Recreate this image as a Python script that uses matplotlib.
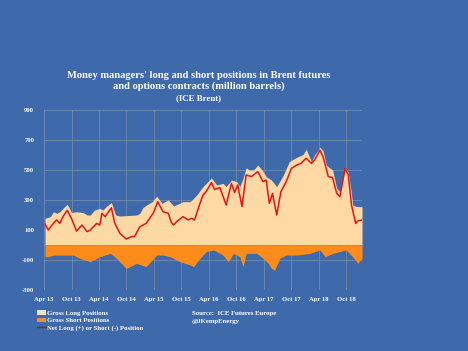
import matplotlib
matplotlib.use("Agg")
import matplotlib.pyplot as plt
from matplotlib.patches import Patch
from matplotlib.lines import Line2D
import pandas as pd

# ---- data (million barrels) ----
# weekly report number counted from the week of 1 April 2013
START = "2013-04-01"
END_WEEK = 302

long_weeks = [1, 6, 9, 12, 15, 18, 22, 25, 26, 31, 37, 41, 44, 48, 53, 56, 59, 64, 68, 72,
              88, 91, 94, 100, 103, 107, 112, 118, 123, 129, 132, 139, 145, 151, 159, 164,
              170, 173, 178, 183, 186, 189, 192, 195, 199, 203, 207, 211, 216, 221, 227,
              233, 240, 246, 249, 254, 257, 262, 265, 268, 271, 274, 278, 281, 286, 289,
              292, 293, 297, 302]
long_vals = [178, 189, 222, 211, 222, 244, 272, 233, 216, 222, 216, 200, 200, 233, 244, 233,
             256, 283, 200, 193, 200, 211, 250, 278, 289, 325, 278, 300, 260, 278, 289, 289,
             333, 389, 447, 400, 411, 389, 433, 422, 389, 444, 514, 500, 500, 533, 500, 456,
             433, 389, 462, 556, 585, 603, 638, 556, 600, 652, 628, 533, 516, 500, 378, 355,
             516, 484, 344, 267, 256, 256]

short_weeks = [1, 4, 9, 28, 34, 44, 53, 63, 69, 78, 88, 97, 107, 113, 120, 129, 139, 142,
               148, 154, 161, 170, 175, 180, 186, 189, 192, 202, 208, 213, 216, 219, 224,
               230, 240, 252, 262, 267, 274, 287, 293, 297, 298, 302]
short_vals = [-78, -78, -67, -67, -89, -111, -78, -56, -89, -156, -122, -144, -67, -67, -78,
              -111, -133, -144, -89, -44, -33, -67, -111, -56, -78, -144, -56, -56, -89,
              -122, -156, -167, -89, -67, -67, -56, -33, -78, -56, -33, -78, -111, -122, -89]

net_weeks = [1, 4, 9, 12, 15, 18, 22, 26, 28, 31, 36, 41, 44, 50, 53, 55, 58, 64, 67, 72,
             78, 83, 86, 91, 97, 104, 108, 113, 118, 121, 123, 126, 132, 137, 140, 143, 148,
             151, 154, 159, 162, 167, 173, 178, 181, 184, 188, 192, 197, 203, 208, 211, 214,
             217, 221, 225, 230, 235, 240, 244, 249, 254, 257, 262, 265, 270, 274, 278, 281,
             286, 289, 292, 296, 298, 302]
net_vals = [139, 100, 145, 167, 144, 189, 231, 178, 144, 92, 133, 89, 100, 144, 133, 211,
            189, 248, 150, 78, 40, 56, 56, 122, 144, 215, 289, 222, 211, 150, 133, 156, 189,
            167, 178, 167, 275, 333, 356, 416, 370, 383, 267, 410, 350, 400, 256, 467, 456,
            489, 422, 433, 278, 344, 200, 356, 422, 511, 533, 544, 578, 544, 567, 633, 589,
            456, 450, 344, 322, 511, 467, 267, 144, 160, 167]

tick_labels = ["Apr 13", "Oct 13", "Apr 14", "Oct 14", "Apr 15", "Oct 15",
               "Apr 16", "Oct 16", "Apr 17", "Oct 17", "Apr 18", "Oct 18"]
tick_dates = ["2013-04-01", "2013-10-01", "2014-04-01", "2014-10-01", "2015-04-01", "2015-10-01",
              "2016-04-01", "2016-10-01", "2017-04-01", "2017-10-01", "2018-04-01", "2018-10-01"]
y_ticks = [-300, -100, 100, 300, 500, 700, 900]

# ---- style ----
BG = "#3E6AAC"
LONG_C = "#FFD9A3"
SHORT_C = "#FF8C1A"
NET_C = "#E3141B"
GRID_C = "#8090A8"
SERIF = ["Liberation Serif", "DejaVu Serif"]


def to_dates(weeks):
    return pd.Timestamp(START) + pd.to_timedelta([w * 7 for w in weeks], unit="D")


fig = plt.figure(figsize=(4.68, 3.51), dpi=100, facecolor=BG)
ax = fig.add_axes([44 / 468, 1 - 290 / 351, (362 - 44) / 468, 180 / 351])
ax.set_facecolor(BG)

ax.fill_between(to_dates(long_weeks), 0, long_vals, color=LONG_C, lw=0, zorder=2)
ax.fill_between(to_dates(short_weeks), 0, short_vals, color=SHORT_C, lw=0, zorder=2)
ax.plot(to_dates(net_weeks), net_vals, color=NET_C, lw=1.1, zorder=3)

ax.set_xlim(pd.Timestamp(START), to_dates([END_WEEK])[0])
ax.set_ylim(-300, 900)
ax.set_yticks(y_ticks)
ax.set_yticklabels([str(v) for v in y_ticks])
ax.set_xticks(pd.to_datetime(tick_dates))
ax.set_xticklabels(tick_labels)
ax.grid(True, color=GRID_C, lw=0.5, zorder=1)
ax.axhline(0, color=GRID_C, lw=0.5, zorder=2.5)
for s in ax.spines.values():
    s.set_visible(False)
ax.tick_params(length=0, colors="white")
for lab in ax.get_xticklabels() + ax.get_yticklabels():
    lab.set_family(SERIF)
    lab.set_fontsize(4.8)
    lab.set_fontweight("bold")
    lab.set_color("white")
ax.tick_params(axis="y", pad=7)
ax.tick_params(axis="x", pad=5)

fig.text(0.425, 1 - 81 / 351, "Money managers' long and short positions in Brent futures\n"
         "and options contracts (million barrels)",
         ha="center", va="center", color="white", fontsize=7.6, fontweight="bold",
         family=SERIF, linespacing=1.1)
fig.text(0.425, 1 - 98 / 351, "(ICE Brent)", ha="center", va="center", color="white",
         fontsize=6.4, fontweight="bold", family=SERIF)

handles = [Patch(facecolor="#F3E2C8", edgecolor="none"),
           Patch(facecolor="#E79234", edgecolor="none"),
           Line2D([0], [0], color="#A0142C", lw=1.0)]
labels = ["Gross Long Positions", "Gross Short Positions", "Net Long (+) or Short (-) Position"]
leg = fig.legend(handles, labels, loc="upper left", bbox_to_anchor=(0.072, 1 - 307 / 351),
                 frameon=False, handlelength=1.3, handleheight=0.6, handletextpad=0.1,
                 labelspacing=0.25, borderpad=0,
                 prop={"family": SERIF, "size": 4.9, "weight": "bold"})
for t in leg.get_texts():
    t.set_color("white")

fig.text(192 / 468, 1 - 314 / 351, "Source:  ICE Futures Europe", color="white", fontsize=4.9,
         fontweight="bold", family=SERIF, va="center")
fig.text(192 / 468, 1 - 322 / 351, "@JKempEnergy", color="white", fontsize=4.9,
         fontweight="bold", family=SERIF, va="center")

fig.savefig("out.png", dpi=100, facecolor=BG)
